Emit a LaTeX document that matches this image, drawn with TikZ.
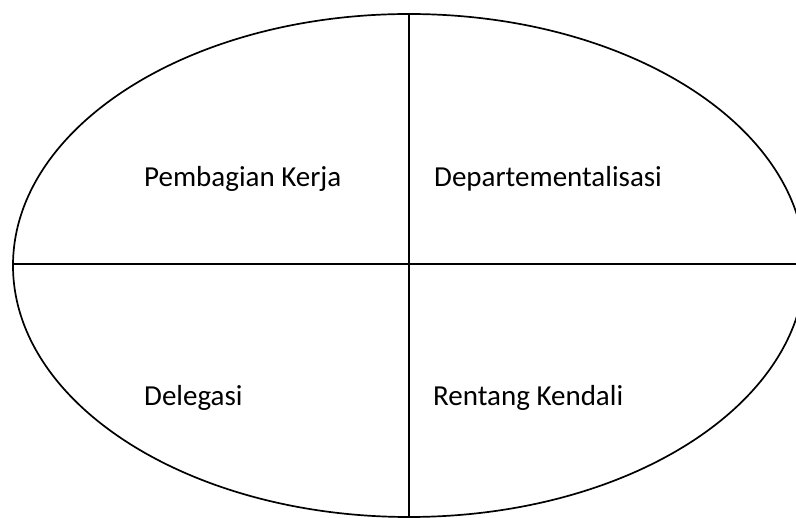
\documentclass[tikz,border=0pt]{standalone}
\usepackage{fontspec}
\setmainfont{Carlito}
\usetikzlibrary{shapes.geometric}
\begin{document}
\begin{tikzpicture}[x=1pt, y=-1pt,
    label/.style={anchor=base west, inner sep=0pt, font=\fontsize{29}{35}\selectfont},
    part/.style={line width=1.7pt}]
    \clip (0,0) rectangle (796,518);
    \fill[white] (0,0) rectangle (796,518);

    % Outer oval
    \node[ellipse, draw, part, inner sep=0pt, outer sep=0pt,
          minimum width=792pt, minimum height=503pt] (oval) at (409,265.5) {};

    % Dividing lines
    \coordinate (bottom) at (409,520);
    \coordinate (cross) at (409,264);
    \draw[part] (oval.north) -- (bottom);
    \draw[part] (oval.west |- cross) -- (oval.east |- cross);

    % Quadrant labels
    \node[label] (kerja) at (144,187) {Pembagian Kerja};
    \node[label] (dept) at (434,187) {Departementalisasi};
    \node[label] (deleg) at (144,406) {Delegasi};
    \node[label] (rentang) at (433,406) {Rentang Kendali};
\end{tikzpicture}
\end{document}
